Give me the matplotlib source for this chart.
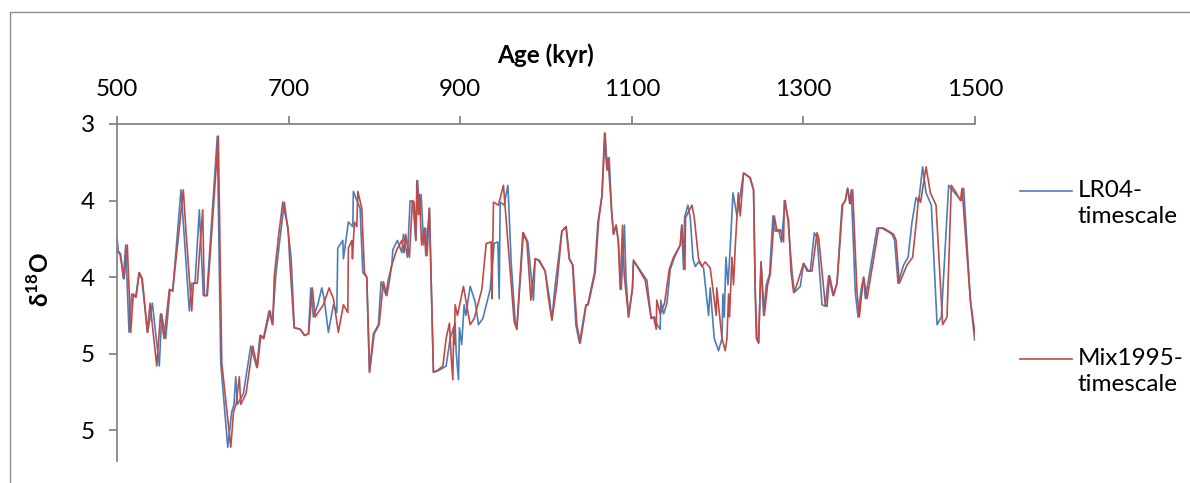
import matplotlib
matplotlib.use("Agg")
import matplotlib.pyplot as plt
from matplotlib.lines import Line2D
from matplotlib.patches import Rectangle
from matplotlib.ticker import FuncFormatter
import math

# d18O values (same record, two age models)
d18o = [
    3.74, 3.83, 3.85, 4.01, 3.79, 4.36, 4.11, 4.13, 3.97, 4.01,
    4.36, 4.17, 4.58, 4.24, 4.40, 4.08, 4.09, 3.43, 3.71, 4.22,
    4.04, 4.04, 3.56, 4.12, 4.12, 3.08, 4.56, 5.11, 4.88, 4.83,
    4.65, 4.83, 4.76, 4.45, 4.59, 4.38, 4.40, 4.22, 4.31, 3.99,
    3.74, 3.51, 3.68, 3.87, 4.33, 4.34, 4.38, 4.37, 4.07, 4.26,
    4.18, 4.07, 4.14, 4.36, 4.18, 4.23, 3.81, 3.76, 3.88, 3.64,
    3.67, 3.44, 3.55, 3.97, 4.00, 4.62, 4.37, 4.31, 4.03, 4.12,
    4.03, 3.92, 3.82, 3.76, 3.84, 3.72, 3.87, 3.50, 3.51, 3.76,
    3.37, 3.59, 3.46, 3.79, 3.68, 3.86, 3.55, 4.62, 4.61, 4.58,
    4.40, 4.30, 4.49, 4.67, 4.33, 4.44, 4.18, 4.25, 4.06, 4.16,
    4.31, 4.27, 4.08, 3.78, 3.77, 4.14, 3.51, 3.53, 3.40, 3.90,
    4.29, 4.34, 3.71, 3.77, 4.15, 3.88, 3.89, 3.96, 4.14, 4.28,
    4.05, 3.70, 3.67, 3.88, 3.92, 4.31, 4.43, 4.18, 4.18, 3.97,
    3.64, 3.47, 3.06, 3.30, 3.22, 3.59, 3.72, 3.66, 3.76, 4.08,
    3.66, 3.99, 4.26, 4.07, 3.89, 4.02, 4.27, 4.26, 4.31, 4.34,
    4.15, 4.24, 4.17, 3.95, 3.87, 3.79, 3.66, 3.95, 3.61, 3.53,
    3.61, 3.88, 3.93, 3.90, 3.94, 4.25, 4.07, 4.40, 4.48, 4.40,
    4.11, 4.26, 3.87, 4.05, 3.80, 3.45, 3.60, 3.32, 3.35, 3.43,
    4.10, 4.40, 4.43, 3.90, 4.25, 4.05, 3.98, 3.60, 3.70, 3.69,
    3.77, 3.50, 3.63, 3.96, 4.10, 4.06, 3.91, 3.96, 3.96, 3.71,
    3.74, 4.18, 4.19, 3.99, 4.12, 4.04, 3.53, 3.50, 3.42, 3.52,
    3.43, 4.10, 4.26, 4.07, 4.00, 4.14, 3.68, 3.68, 3.70, 3.72,
    3.76, 4.04, 3.92, 3.87, 3.64, 3.48, 3.51, 3.28, 3.45, 3.53,
    4.31, 4.26, 3.40, 3.44, 3.50, 3.42, 4.15, 4.41,
]

age_lr04 = [
    500.0, 501.5, 504.3, 507.3, 510.1, 514.0, 517.1, 521.8, 525.7, 528.8,
    535.8, 541.2, 549.3, 552.1, 556.8, 561.8, 564.9, 574.6, 578.1, 584.3,
    587.1, 590.9, 596.0, 600.6, 604.6, 616.9, 620.9, 629.1, 633.7, 636.4,
    638.4, 640.5, 647.3, 655.9, 662.9, 666.7, 670.6, 677.2, 681.1, 685.0,
    690.1, 695.1, 699.0, 702.9, 706.7, 713.4, 718.4, 723.1, 725.9, 728.9,
    734.0, 738.7, 741.4, 746.4, 752.2, 756.2, 757.3, 763.2, 763.9, 769.7,
    774.8, 775.5, 783.3, 786.5, 791.1, 794.2, 798.8, 804.7, 807.8, 813.7,
    815.6, 820.3, 821.5, 826.8, 832.0, 833.8, 838.5, 841.6, 844.8, 848.3,
    850.4, 852.7, 854.5, 857.4, 859.7, 861.5, 864.1, 868.8, 874.6, 883.6,
    888.3, 894.1, 895.3, 898.0, 899.1, 901.7, 904.6, 906.6, 911.6, 917.4,
    921.3, 926.4, 934.9, 939.6, 943.9, 945.4, 946.6, 951.2, 955.6, 959.4,
    964.1, 966.0, 973.7, 978.9, 985.4, 987.4, 992.4, 999.0, 1004.1, 1006.9,
    1010.7, 1018.5, 1023.2, 1027.0, 1030.9, 1034.8, 1039.0, 1046.5, 1048.6, 1056.5,
    1060.5, 1065.2, 1069.0, 1071.3, 1073.7, 1076.6, 1078.7, 1081.5, 1084.2, 1087.7,
    1091.5, 1093.1, 1096.2, 1100.8, 1102.0, 1117.6, 1122.6, 1126.5, 1129.6, 1133.1,
    1133.7, 1137.0, 1141.0, 1144.8, 1149.8, 1156.5, 1158.2, 1160.3, 1161.5, 1165.4,
    1168.1, 1171.3, 1174.0, 1177.8, 1183.6, 1189.5, 1191.4, 1196.1, 1201.1, 1205.1,
    1206.2, 1207.8, 1209.7, 1212.1, 1214.8, 1217.9, 1222.6, 1230.3, 1237.3, 1241.9,
    1243.9, 1245.1, 1247.8, 1250.6, 1253.6, 1256.7, 1260.6, 1264.5, 1267.2, 1271.1,
    1274.2, 1278.9, 1282.0, 1286.7, 1289.4, 1296.4, 1300.2, 1304.2, 1308.0, 1312.7,
    1315.9, 1321.7, 1325.5, 1329.4, 1334.5, 1339.2, 1345.0, 1348.8, 1351.5, 1353.9,
    1355.8, 1360.5, 1363.7, 1367.5, 1370.2, 1372.2, 1385.8, 1391.6, 1397.8, 1403.3,
    1406.3, 1410.3, 1416.8, 1422.0, 1426.6, 1431.3, 1434.3, 1439.0, 1443.0, 1449.1,
    1455.8, 1460.8, 1469.3, 1474.8, 1484.1, 1486.8, 1494.6, 1499.6,
]

age_mix1995 = [
    498.3, 500.3, 503.5, 508.2, 512.0, 516.0, 519.0, 522.2, 526.0, 529.5,
    535.3, 538.5, 546.3, 550.7, 554.8, 561.0, 564.9, 577.3, 580.5, 587.1,
    589.0, 593.6, 599.9, 601.8, 605.3, 618.1, 622.1, 632.6, 635.8, 638.8,
    642.6, 644.2, 650.4, 658.2, 663.6, 667.6, 671.1, 678.4, 681.5, 683.4,
    688.1, 693.2, 699.4, 701.1, 706.4, 713.7, 718.6, 723.3, 727.7, 730.9,
    740.5, 747.2, 752.2, 758.0, 763.9, 769.0, 769.7, 773.7, 774.4, 776.7,
    779.5, 780.7, 785.3, 788.4, 791.1, 794.4, 799.7, 805.5, 810.5, 814.5,
    817.2, 820.3, 826.1, 832.0, 834.6, 836.4, 840.8, 844.3, 846.3, 848.3,
    849.5, 851.3, 852.5, 855.0, 858.3, 859.9, 864.1, 868.8, 873.1, 879.8,
    883.6, 887.5, 889.1, 891.4, 892.4, 893.2, 894.1, 896.8, 903.8, 906.9,
    911.6, 916.3, 925.2, 930.3, 936.1, 936.9, 938.8, 944.6, 950.4, 957.4,
    962.9, 966.0, 973.0, 977.7, 982.4, 987.4, 991.2, 999.0, 1002.9, 1006.9,
    1012.7, 1018.5, 1023.5, 1027.4, 1031.3, 1036.0, 1039.9, 1046.9, 1049.2, 1057.3,
    1061.2, 1065.2, 1068.2, 1071.0, 1072.2, 1076.8, 1078.7, 1081.8, 1084.2, 1086.5,
    1089.2, 1091.2, 1096.2, 1100.8, 1102.0, 1115.6, 1122.6, 1125.3, 1127.3, 1128.5,
    1129.1, 1133.1, 1138.2, 1143.6, 1148.6, 1156.5, 1158.4, 1161.9, 1162.6, 1170.1,
    1172.8, 1177.8, 1181.8, 1185.6, 1191.4, 1198.4, 1199.0, 1205.1, 1208.9, 1210.9,
    1212.8, 1213.9, 1216.7, 1218.6, 1220.6, 1224.1, 1226.4, 1230.3, 1238.1, 1241.9,
    1243.9, 1245.9, 1247.8, 1250.6, 1254.4, 1258.3, 1261.4, 1266.1, 1269.2, 1273.1,
    1276.9, 1277.7, 1282.7, 1285.5, 1288.6, 1291.7, 1300.2, 1306.0, 1310.0, 1315.9,
    1317.7, 1325.5, 1327.5, 1330.5, 1335.2, 1339.2, 1345.7, 1348.8, 1351.5, 1354.7,
    1357.4, 1362.5, 1365.2, 1368.7, 1370.2, 1374.2, 1387.7, 1393.5, 1399.3, 1405.2,
    1408.0, 1411.8, 1420.8, 1427.3, 1431.6, 1434.3, 1436.6, 1443.0, 1448.0, 1454.6,
    1462.3, 1467.4, 1472.4, 1477.1, 1483.0, 1484.9, 1494.6, 1501.0,
]

x_ticks = [500, 700, 900, 1100, 1300, 1500]
y_ticks = [3.0, 3.5, 4.0, 4.5, 5.0]
series_names = ["LR04-\ntimescale", "Mix1995-\ntimescale"]
colors = ["#4A7EBB", "#BE4B48"]

plt.rcParams['font.family'] = ['Lato', 'DejaVu Sans']
plt.rcParams['mathtext.fontset'] = 'custom'
plt.rcParams['mathtext.bf'] = 'Lato:bold'
plt.rcParams['mathtext.rm'] = 'Lato'

W, H = 1190, 483
fs = 17.5
fig = plt.figure(figsize=(W / 100, H / 100), dpi=100)
ax = fig.add_axes([117 / W, 1 - 461 / H, 858 / W, 337 / H])

ax.plot(age_lr04, d18o, color=colors[0], lw=1.2)
ax.plot(age_mix1995, d18o, color=colors[1], lw=1.2)

ax.set_xlim(500, 1500)
ax.set_ylim(5.2, 3.0)

axis_grey = "#868686"
for side in ["right", "bottom"]:
    ax.spines[side].set_visible(False)
for side in ["left", "top"]:
    ax.spines[side].set_color(axis_grey)
    ax.spines[side].set_linewidth(1.3)

ax.xaxis.tick_top()
ax.set_xticks(x_ticks)
ax.set_yticks(y_ticks)
# Excel-style rounding of the "0" number format
ax.yaxis.set_major_formatter(FuncFormatter(lambda v, p: str(int(math.floor(v + 0.5)))))
ax.tick_params(axis='both', direction='out', length=6, width=1.3, color=axis_grey,
               labelsize=fs, labelcolor='black')
ax.tick_params(axis='x', pad=11)
ax.tick_params(axis='y', pad=10)

ax.set_xlabel("Age (kyr)", fontsize=fs, fontweight='bold', labelpad=12)
ax.xaxis.set_label_position('top')

fig.text(40 / W, 1 - 280 / H, r"δ$^{\mathbf{18}}$O", rotation=90, fontsize=fs,
         fontweight='bold', ha='center', va='center')

# legend drawn by hand, Excel style
for name, col, ly in zip(series_names, colors, [191, 359]):
    fig.add_artist(Line2D([1020 / W, 1072 / W], [1 - ly / H, 1 - ly / H],
                          transform=fig.transFigure, color=col, lw=1.2))
    fig.text(1078 / W, 1 - (ly - 11) / H, name, fontsize=fs, ha='left', va='top',
             linespacing=1.3)

# chart area border
fig.add_artist(Rectangle((10 / W, -0.1), 1.2, 1.1 - 12.5 / H, transform=fig.transFigure,
                         fill=False, edgecolor="#8c8c8c", lw=1.0))

fig.savefig("out.png", dpi=100)
